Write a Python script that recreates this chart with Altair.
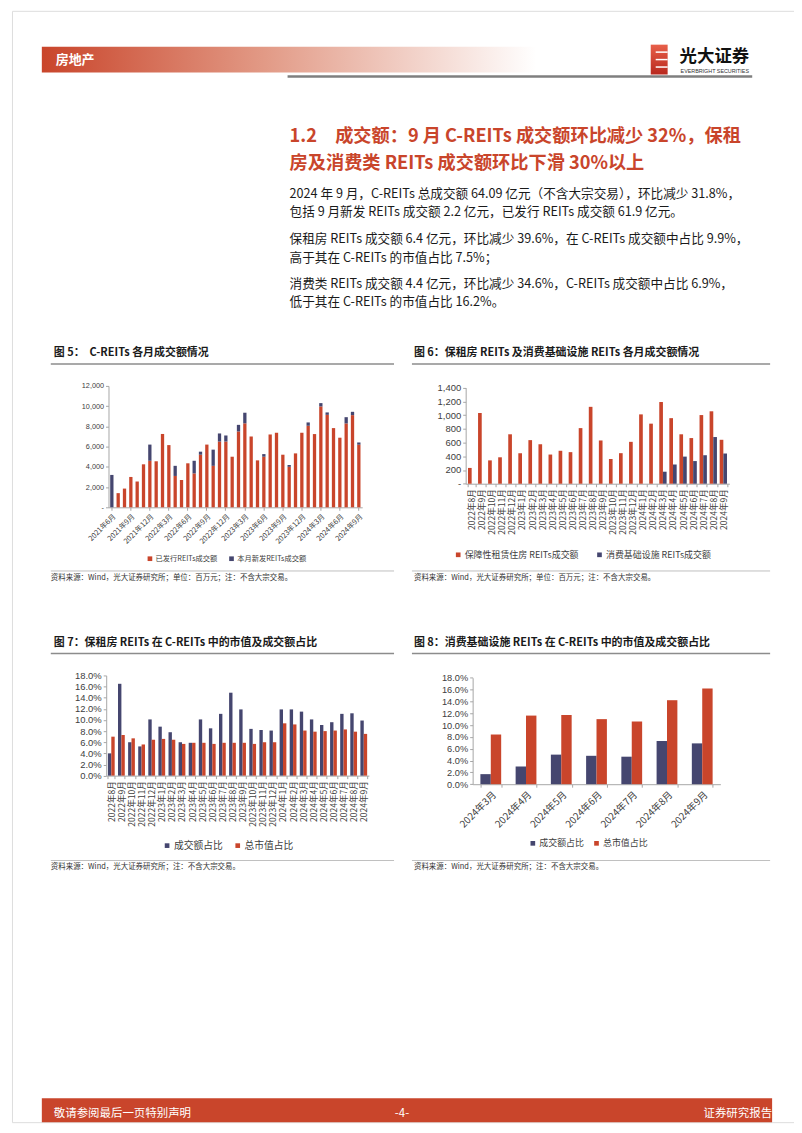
import altair as alt
import pandas as pd

RED = "#C9452B"
NAVY = "#45466F"
CJK = "Noto Sans CJK SC"
NUM = "Liberation Sans"
AXC = "#A6A6A6"
TXT = "#262626"
W, H = 786, 1117


def month_labels(y0, m0, y1, m1):
    out, y, m = [], y0, m0
    while (y, m) <= (y1, m1):
        out.append(f"{y}年{m}月")
        m += 1
        if m > 12:
            y, m = y + 1, 1
    return out


# ---------------- data ----------------
months5 = month_labels(2021, 6, 2024, 9)
issued5 = [0, 1400, 1850, 3000, 2550, 4250, 4600, 4550, 7250, 6150,
           3100, 2700, 4350, 3350, 5200, 6200, 4100, 6500, 6500, 5000,
           7500, 8300, 7000, 4640, 5000, 7200, 7370, 5200, 4000, 5330,
           7370, 8060, 7240, 9970, 9140, 7830, 6880, 8290, 9110, 6190]
new5 = [3200, 0, 0, 0, 0, 0, 1600, 0, 0, 0,
        1000, 0, 0, 1250, 300, 0, 1600, 800, 600, 0,
        650, 1050, 0, 0, 260, 0, 0, 0, 180, 0,
        0, 330, 0, 330, 240, 0, 0, 620, 330, 220]
series5 = ["已发行REITs成交额", "本月新发REITs成交额"]
yticks5 = [0, 2000, 4000, 6000, 8000, 10000, 12000]

months6 = month_labels(2022, 8, 2024, 9)
rent6 = [230, 1030, 340, 385, 720, 445, 635, 575, 425, 480, 460, 810, 1120,
         630, 360, 445, 610, 1010, 875, 1190, 955, 720, 665, 1000, 1055, 640]
cons6 = [0, 0, 0, 0, 0, 0, 0, 0, 0, 0, 0, 0, 0,
         0, 0, 0, 0, 0, 0, 175, 280, 395, 330, 415, 680, 440]
series6 = ["保障性租赁住房 REITs成交额", "消费基础设施 REITs成交额"]
yticks6 = [0, 200, 400, 600, 800, 1000, 1200, 1400]

months7 = month_labels(2022, 8, 2024, 9)
trade7 = [4.0, 16.5, 6.0, 5.25, 10.1, 8.8, 7.8, 6.0, 5.9, 10.1, 8.5, 11.1, 14.9,
          11.9, 8.4, 8.2, 8.1, 11.9, 11.9, 11.5, 10.1, 9.1, 9.6, 11.1, 11.2, 9.9]
mcap7 = [7.0, 7.3, 6.7, 5.6, 6.45, 6.6, 6.45, 5.7, 5.9, 5.9, 5.7, 5.9, 5.9,
         5.9, 5.7, 6.0, 6.0, 9.4, 9.2, 8.1, 7.9, 8.0, 8.1, 8.3, 7.9, 7.5]
series78 = ["成交额占比", "总市值占比"]
yticks78 = [0, 2, 4, 6, 8, 10, 12, 14, 16, 18]

months8 = month_labels(2024, 3, 2024, 9)
trade8 = [1.7, 3.0, 5.0, 4.8, 4.65, 7.3, 6.9]
mcap8 = [8.4, 11.6, 11.7, 11.0, 10.6, 14.2, 16.2]

# ---------------- texts ----------------
header_tag = "房地产"
logo_cn = "光大证券"
logo_en = "EVERBRIGHT SECURITIES"
title_lines = ["1.2\u3000成交额：9 月 C-REITs 成交额环比减少 32%，保租",
               "房及消费类 REITs 成交额环比下滑 30%以上"]
body_lines = [
    "2024 年 9 月，C-REITs 总成交额 64.09 亿元（不含大宗交易），环比减少 31.8%，",
    "包括 9 月新发 REITs 成交额 2.2 亿元，已发行 REITs 成交额 61.9 亿元。",
    "保租房 REITs 成交额 6.4 亿元，环比减少 39.6%，在 C-REITs 成交额中占比 9.9%，",
    "高于其在 C-REITs 的市值占比 7.5%；",
    "消费类 REITs 成交额 4.4 亿元，环比减少 34.6%，C-REITs 成交额中占比 6.9%，",
    "低于其在 C-REITs 的市值占比 16.2%。",
]
fig_titles = ["图 5：\u00a0\u00a0C-REITs 各月成交额情况",
              "图 6：保租房 REITs 及消费基础设施 REITs 各月成交额情况",
              "图 7：保租房 REITs 在 C-REITs 中的市值及成交额占比",
              "图 8：消费基础设施 REITs 在 C-REITs 中的市值及成交额占比"]
src_a = "资料来源：Wind，光大证券研究所；单位：百万元；注：不含大宗交易。"
src_b = "资料来源：Wind，光大证券研究所；注：不含大宗交易。"
footer_texts = ["敬请参阅最后一页特别声明", "-4-", "证券研究报告"]

ONE = pd.DataFrame({"k": [0]})


def txt(s, x, y, size, color=TXT, weight="normal", align="left", font=CJK):
    return alt.Chart(pd.DataFrame({"t": [s]})).mark_text(
        align=align, baseline="middle", fontSize=size, font=font,
        fontWeight=weight, color=color
    ).encode(text="t:N", x=alt.value(x), y=alt.value(y))


def hrule(x1, x2, y, color, width):
    return alt.Chart(ONE).mark_rule(color=color, strokeWidth=width).encode(
        x=alt.value(x1), x2=alt.value(x2), y=alt.value(y))


def box(x1, x2, y1, y2, fill):
    return alt.Chart(ONE).mark_rect(fill=fill).encode(
        x=alt.value(x1), x2=alt.value(x2), y=alt.value(y1), y2=alt.value(y2))


def y_axis(vals, expr, size, x0):
    return alt.Axis(title=None, values=vals, labelExpr=expr, grid=False,
                    orient="left", offset=-x0,
                    domainColor=AXC, tickColor=AXC, tickSize=3,
                    labelFont=NUM, labelFontSize=size, labelColor="#404040",
                    labelPadding=2)


def x_axis(vals, angle, size, y0, **kw):
    return alt.Axis(title=None, values=vals, labelAngle=angle, labelFont=CJK,
                    orient="bottom", offset=y0 - H,
                    labelFontSize=size, labelColor="#404040", domainColor=AXC,
                    tickColor=AXC, tickSize=3, labelOverlap=False,
                    labelPadding=2, **kw)


def legend(x, y, size, pad):
    return alt.Legend(orient="none", legendX=x, legendY=y, direction="horizontal",
                      title=None, symbolType="square", symbolSize=22,
                      symbolStrokeWidth=0, labelFont=CJK, labelFontSize=size,
                      labelColor="#404040", columnPadding=pad, padding=0,
                      labelLimit=400, labelOffset=2)


def long_df(months, names, a, b):
    return pd.DataFrame({
        "month": months * 2,
        "series": [names[0]] * len(months) + [names[1]] * len(months),
        "value": a + b,
        "ord": [0] * len(months) + [1] * len(months),
    })


# ---------------- chart 5 (plot area x 97-352, y 377-499) ----------------
c5 = alt.Chart(long_df(months5, series5, issued5, new5)).mark_bar().encode(
    x=alt.X("month:N", sort=months5,
            scale=alt.Scale(paddingInner=0.48, paddingOuter=0.27, range=[97, 352]),
            axis=x_axis(months5[::3], -45, 7.3, 499)),
    y=alt.Y("value:Q", stack="zero",
            scale=alt.Scale(domain=[0, 12000], nice=False, range=[499, 377]),
            axis=y_axis(yticks5, "datum.value == 0 ? '-' : format(datum.value, ',')", 7.3, 97)),
    color=alt.Color("series:N", scale=alt.Scale(domain=series5, range=[RED, NAVY]),
                    legend=legend(135, 547, 7.3, 10)),
    order=alt.Order("ord:Q"),
)

# ---------------- chart 6 (x 456-721, y 378.7-475.3) ----------------
c6 = alt.Chart(long_df(months6, series6, rent6, cons6)).mark_bar().encode(
    x=alt.X("month:N", sort=months6,
            scale=alt.Scale(paddingInner=0.27, paddingOuter=0.23, range=[456, 721]),
            axis=x_axis(months6, -90, 8.6, 475.3, tickBand="extent")),
    xOffset=alt.XOffset("series:N", scale=alt.Scale(domain=series6, paddingInner=0, paddingOuter=0)),
    y=alt.Y("value:Q", scale=alt.Scale(domain=[0, 1400], nice=False, range=[475.3, 378.7]),
            axis=y_axis(yticks6, "datum.value == 0 ? '-' : format(datum.value, ',')", 9.5, 456)),
    color=alt.Color("series:N", scale=alt.Scale(domain=series6, range=[RED, NAVY]),
                    legend=legend(444, 542, 9, 16)),
)

# ---------------- chart 7 (x 94.7-358.7, y 668-768.7) ----------------
c7 = alt.Chart(long_df(months7, series78, trade7, mcap7)).mark_bar().encode(
    x=alt.X("month:N", sort=months7,
            scale=alt.Scale(paddingInner=0.33, paddingOuter=0.17, range=[94.7, 358.7]),
            axis=x_axis(months7, -90, 8.6, 768.7, tickBand="extent")),
    xOffset=alt.XOffset("series:N", scale=alt.Scale(domain=series78, paddingInner=0, paddingOuter=0)),
    y=alt.Y("value:Q", scale=alt.Scale(domain=[0, 18], nice=False, range=[768.7, 668]),
            axis=y_axis(yticks78, "format(datum.value, '.1f') + '%'", 9.5, 94.7)),
    color=alt.Color("series:N", scale=alt.Scale(domain=series78, range=[NAVY, RED]),
                    legend=legend(151, 834, 9.8, 10)),
)

# ---------------- chart 8 (x 463-712, y 670.3-777.3) ----------------
c8 = alt.Chart(long_df(months8, series78, trade8, mcap8)).mark_bar().encode(
    x=alt.X("month:N", sort=months8,
            scale=alt.Scale(paddingInner=0.41, paddingOuter=0.22, range=[463, 712]),
            axis=x_axis(months8, -45, 9.8, 777.3, tickBand="extent")),
    xOffset=alt.XOffset("series:N", scale=alt.Scale(domain=series78, paddingInner=0, paddingOuter=0)),
    y=alt.Y("value:Q", scale=alt.Scale(domain=[0, 18], nice=False, range=[777.3, 670.3]),
            axis=y_axis(yticks78, "format(datum.value, '.1f') + '%'", 9.3, 463)),
    color=alt.Color("series:N", scale=alt.Scale(domain=series78, range=[NAVY, RED]),
                    legend=legend(519, 832, 9, 7)),
)

# ---------------- page furniture ----------------
grad = alt.Gradient(gradient="linear", x1=0, x2=1, y1=0, y2=0, stops=[
    alt.GradientStop(color=RED, offset=0),
    alt.GradientStop(color="#E29A86", offset=0.45),
    alt.GradientStop(color="#FFFFFF", offset=1)])
logo_grad = alt.Gradient(gradient="linear", x1=0, x2=0, y1=0, y2=1, stops=[
    alt.GradientStop(color="#E8604A", offset=0),
    alt.GradientStop(color="#B8281E", offset=1)])

deco = [
    alt.Chart(ONE).mark_rect(fill=grad).encode(
        x=alt.value(30), x2=alt.value(527), y=alt.value(36), y2=alt.value(62)),
    txt(header_tag, 44, 49, 13, color="white", weight="bold"),
    hrule(277, 744, 66, "#7F7F7F", 2.5),
    alt.Chart(ONE).mark_rect(fill=logo_grad).encode(
        x=alt.value(642), x2=alt.value(659), y=alt.value(34), y2=alt.value(64)),
    hrule(647, 659, 41.5, "white", 1.5),
    hrule(647, 659, 49, "white", 1.5),
    hrule(647, 659, 56.5, "white", 1.5),
    txt(logo_cn, 671, 46, 17.5, color="#111111", weight="bold"),
    txt(logo_en, 672, 60, 5.4, color="#333333", font=NUM),
    txt(title_lines[0], 279, 127, 18.3, color=RED, weight="bold"),
    txt(title_lines[1], 279, 153.7, 18.3, color=RED, weight="bold"),
]
body_y = [183.7, 202, 229.7, 248, 275, 293]
for line, yy in zip(body_lines, body_y):
    deco.append(txt(line, 279, yy, 12.7, color="#1A1A1A"))
deco += [
    txt(fig_titles[0], 42, 344, 11, weight="bold", color="#1A1A1A"),
    txt(fig_titles[1], 404, 344, 11, weight="bold", color="#1A1A1A"),
    hrule(39, 384, 355, "#8C8C8C", 1.5),
    hrule(402, 762, 355, "#8C8C8C", 1.5),
    hrule(39, 384, 563, "#BFBFBF", 1),
    hrule(402, 762, 563, "#BFBFBF", 1),
    txt(src_a, 39, 570, 7.5, color="#333333"),
    txt(src_a, 404, 570, 7.5, color="#333333"),
    txt(fig_titles[2], 42, 635, 11, weight="bold", color="#1A1A1A"),
    txt(fig_titles[3], 404, 635, 11, weight="bold", color="#1A1A1A"),
    hrule(39, 384, 646, "#8C8C8C", 1.5),
    hrule(402, 762, 646, "#8C8C8C", 1.5),
    hrule(39, 384, 854, "#BFBFBF", 1),
    hrule(402, 762, 854, "#BFBFBF", 1),
    txt(src_b, 39, 861, 7.5, color="#333333"),
    txt(src_b, 404, 861, 7.5, color="#333333"),
    box(30, 764, 1093, 1117, RED),
    txt(footer_texts[0], 42, 1109, 11.5, color="white"),
    txt(footer_texts[1], 392, 1109, 11.5, color="white", align="center"),
    txt(footer_texts[2], 764, 1109, 11.5, color="white", align="right"),
]

chart = alt.layer(*deco, c5, c6, c7, c8).resolve_scale(
    x="independent", y="independent", color="independent", xOffset="independent"
).resolve_axis(x="independent", y="independent").resolve_legend(
    color="independent"
).properties(width=W, height=H, padding=0).configure_view(strokeWidth=0).configure(font=CJK)

chart.save("out.html", embed_options={"renderer": "svg", "actions": False})
